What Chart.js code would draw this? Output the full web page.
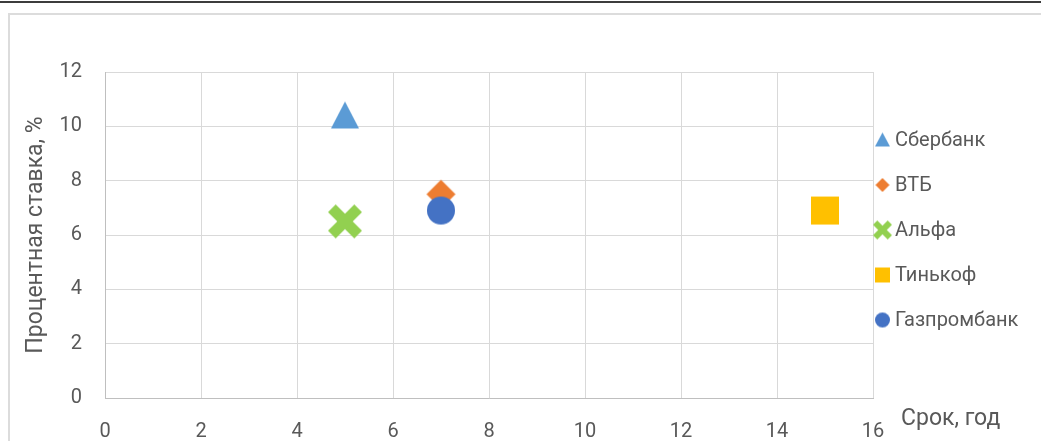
<!DOCTYPE html>
<html>
<head>
<meta charset="utf-8">
<script src="https://cdn.jsdelivr.net/npm/chart.js@4/dist/chart.umd.min.js"></script>
<style>
    html, body { margin: 0; padding: 0; background: #fff; }
    #wrap { position: relative; width: 1041px; height: 441px; overflow: hidden; }
    .topline { position: absolute; left: 0; top: 1px; width: 1041px; height: 2px; background: #3c3c3c; }
    .frame { position: absolute; left: 8px; top: 13px; width: 1100px; height: 500px; border: 2px solid #dcdcdc; }
    #chart { position: absolute; left: 0; top: 0; }
</style>
</head>
<body>
<div id="wrap">
    <div class="topline"></div>
    <div class="frame"></div>
    <canvas id="chart" width="1041" height="441"></canvas>
</div>
<script>
// chart data
const seriesNames = ["Сбербанк", "ВТБ", "Альфа", "Тинькоф", "Газпромбанк"];
const termYears = [5, 7, 5, 15, 7];
const ratePercent = [10.4, 7.5, 6.5, 6.9, 6.9];
const xAxisTitle = "Срок, год";
const yAxisTitle = "Процентная ставка, %";

const colors = ["#5b9bd5", "#ed7d31", "#92d050", "#ffc000", "#4472c4"];
const shapes = ["triangle", "diamond", "x", "square", "circle"];
const FONT = "Roboto, 'Noto Sans', sans-serif";
const TEXT = "#595959";

// excel-like marker drawn on a small canvas, used as pointStyle
function makeMarker(shape, size, color) {
    const c = document.createElement("canvas");
    c.width = size + 2;
    c.height = size + 2;
    const ctx = c.getContext("2d");
    const s = size;
    ctx.translate(1, 1);
    ctx.fillStyle = color;
    ctx.strokeStyle = color;
    ctx.beginPath();
    if (shape === "triangle") {
        ctx.moveTo(s / 2, 0);
        ctx.lineTo(s, s - 1);
        ctx.lineTo(0, s - 1);
        ctx.closePath();
        ctx.fill();
    } else if (shape === "diamond") {
        ctx.moveTo(s / 2, 0);
        ctx.lineTo(s, s / 2);
        ctx.lineTo(s / 2, s);
        ctx.lineTo(0, s / 2);
        ctx.closePath();
        ctx.fill();
    } else if (shape === "square") {
        ctx.fillRect(0, 0, s, s);
    } else if (shape === "circle") {
        ctx.arc(s / 2, s / 2, s / 2, 0, Math.PI * 2);
        ctx.fill();
    } else if (shape === "x") {
        const t = s * 0.32;
        const a = t / (2 * Math.SQRT2);
        ctx.lineWidth = t;
        ctx.lineCap = "butt";
        ctx.moveTo(a, a);
        ctx.lineTo(s - a, s - a);
        ctx.moveTo(s - a, a);
        ctx.lineTo(a, s - a);
        ctx.stroke();
    }
    return c;
}

const plotSizes = { triangle: 28, diamond: 29, x: 34, square: 28, circle: 28 };
const legendSizes = { triangle: 15, diamond: 14, x: 19, square: 15, circle: 15 };

const datasets = seriesNames.map((name, i) => ({
    label: name,
    data: [{ x: termYears[i], y: ratePercent[i] }],
    pointStyle: makeMarker(shapes[i], plotSizes[shapes[i]], colors[i]),
    legendMarker: makeMarker(shapes[i], legendSizes[shapes[i]], colors[i]),
    backgroundColor: colors[i],
    borderColor: colors[i],
    pointRadius: 14,
    order: seriesNames.length - i   // last series on top
}));

// legend on the right, drawn from the datasets
const sideLegend = {
    id: "sideLegend",
    afterDraw(chart) {
        const { ctx, chartArea } = chart;
        ctx.save();
        ctx.font = "20px " + FONT;
        ctx.fillStyle = TEXT;
        ctx.textBaseline = "middle";
        ctx.textAlign = "left";
        chart.data.datasets.forEach((ds, i) => {
            const y = chartArea.top + 68 + i * 45;
            const m = ds.legendMarker;
            ctx.drawImage(m, chartArea.right + 9.5 - m.width / 2, y - m.height / 2);
            ctx.fillText(ds.label, chartArea.right + 22, y + 1);
        });
        ctx.restore();
    }
};

// x axis title sits to the right of the last tick
const xTitle = {
    id: "xTitle",
    afterDraw(chart) {
        const { ctx, chartArea } = chart;
        ctx.save();
        ctx.font = "23px " + FONT;
        ctx.fillStyle = TEXT;
        ctx.textBaseline = "alphabetic";
        ctx.textAlign = "left";
        ctx.fillText(xAxisTitle, chartArea.right + 28, chartArea.bottom + 27);
        ctx.restore();
    }
};

new Chart(document.getElementById("chart"), {
    type: "scatter",
    data: { datasets },
    plugins: [sideLegend, xTitle],
    options: {
        responsive: false,
        animation: false,
        layout: { padding: { left: 22, top: 72, right: 168, bottom: 0 } },
        plugins: {
            legend: { display: false },
            tooltip: { enabled: false }
        },
        scales: {
            x: {
                type: "linear",
                min: 0,
                max: 16,
                ticks: { stepSize: 2, color: TEXT, font: { family: FONT, size: 20 }, padding: 22 },
                grid: { color: "#d9d9d9", drawTicks: false },
                border: { color: "#bfbfbf" },
                afterFit: s => { s.height = 43; }
            },
            y: {
                min: 0,
                max: 12,
                ticks: { stepSize: 2, color: TEXT, font: { family: FONT, size: 20 }, padding: 23 },
                grid: { color: "#d9d9d9", drawTicks: false },
                border: { color: "#bfbfbf" },
                title: {
                    display: true,
                    text: yAxisTitle,
                    color: TEXT,
                    font: { family: FONT, size: 23 },
                    padding: 0
                },
                afterFit: s => { s.width = 83; }
            }
        }
    }
});
</script>
</body>
</html>
